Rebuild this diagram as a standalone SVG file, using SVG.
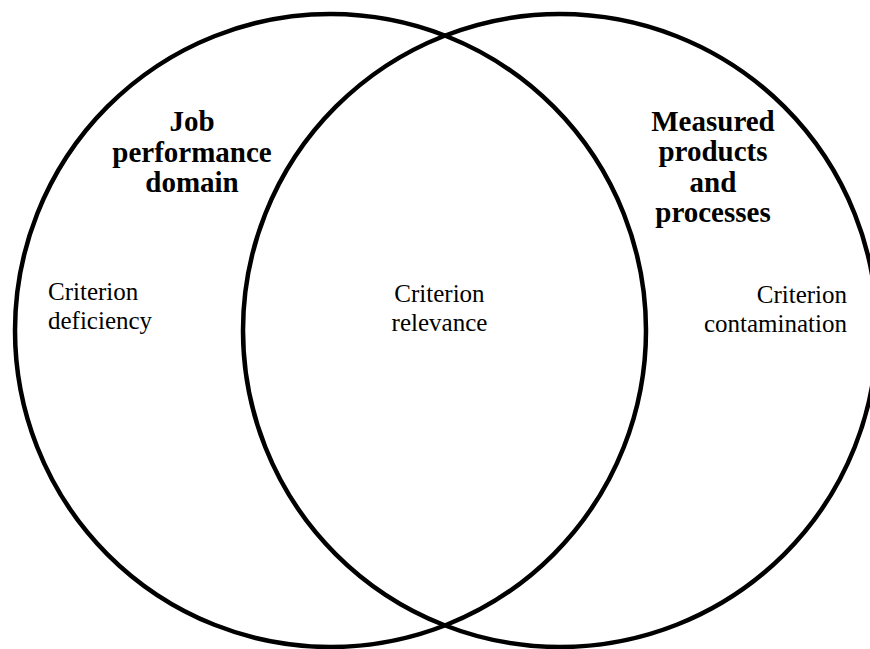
<svg xmlns="http://www.w3.org/2000/svg" width="870" height="649" viewBox="0 0 870 649">
  <style>
    .set { fill: none; stroke: #000; stroke-width: 4.5; }
    .title { font-family: "Liberation Serif", "Times New Roman", serif; font-size: 29px; font-weight: bold; fill: #000; text-anchor: middle; }
    .label { font-family: "Liberation Serif", "Times New Roman", serif; font-size: 25px; fill: #000; }
  </style>
  <rect width="870" height="649" fill="#fff"/>

  <!-- Left set: the job performance domain -->
  <g id="job-performance-domain">
    <ellipse class="set" cx="330.5" cy="330.5" rx="315.5" ry="316.5"/>
    <text class="title" x="192" y="131">Job</text>
    <text class="title" x="192" y="161.5">performance</text>
    <text class="title" x="192" y="192">domain</text>
  </g>

  <!-- Right set: what the criterion actually measures -->
  <g id="measured-products-processes">
    <ellipse class="set" cx="560" cy="330.5" rx="317" ry="316.5"/>
    <text class="title" x="713" y="130.5">Measured</text>
    <text class="title" x="713" y="161">products</text>
    <text class="title" x="713" y="191.5">and</text>
    <text class="title" x="713" y="222">processes</text>
  </g>

  <!-- Region labels -->
  <g id="criterion-deficiency">
    <text class="label" x="48" y="300">Criterion</text>
    <text class="label" x="48" y="329">deficiency</text>
  </g>
  <g id="criterion-relevance">
    <text class="label" x="439.5" y="302" text-anchor="middle">Criterion</text>
    <text class="label" x="439.5" y="331" text-anchor="middle">relevance</text>
  </g>
  <g id="criterion-contamination">
    <text class="label" x="847" y="303" text-anchor="end">Criterion</text>
    <text class="label" x="847" y="332" text-anchor="end">contamination</text>
  </g>
</svg>
